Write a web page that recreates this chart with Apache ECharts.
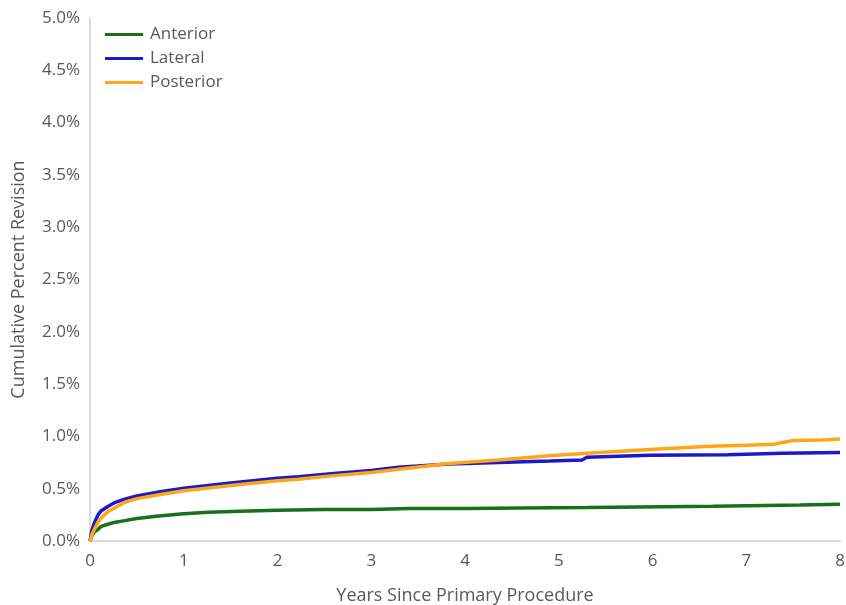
<!DOCTYPE html>
<html>
<head>
<meta charset="utf-8">
<script src="https://cdn.jsdelivr.net/npm/echarts@6/dist/echarts.min.js"></script>
<style>html,body{margin:0;padding:0;background:#fff}#c{width:846px;height:605px}</style>
</head>
<body>
<div id="c"></div>
<script>
const seriesNames = ['Anterior', 'Lateral', 'Posterior'];
const xTicks = [0, 1, 2, 3, 4, 5, 6, 7, 8];
const yTicks = [0, 0.5, 1, 1.5, 2, 2.5, 3, 3.5, 4, 4.5, 5];

// years since primary procedure
const anteriorYears = [0, 0.02, 0.05, 0.085, 0.12, 0.19, 0.27, 0.37, 0.5, 0.73, 1.0, 1.26, 1.6, 2.0, 2.5, 3.0, 3.4, 4.0, 4.6, 5.3, 5.31, 6.64, 6.65, 7.57, 7.58, 8.0];
const anteriorPct =   [0, 0.05, 0.09, 0.11, 0.14, 0.16, 0.18, 0.195, 0.215, 0.24, 0.26, 0.275, 0.285, 0.295, 0.30, 0.30, 0.31, 0.31, 0.315, 0.32, 0.333, 0.333, 0.345, 0.345, 0.352, 0.352];

const lateralYears = [0, 0.02, 0.05, 0.085, 0.12, 0.19, 0.27, 0.37, 0.5, 0.75, 1.0, 1.5, 2.0, 2.22, 2.6, 3.0, 3.29, 3.83, 4.36, 4.9, 5.25, 5.3, 5.97, 6.8, 6.82, 7.38, 7.4, 8.0];
const lateralPct =   [0, 0.10, 0.18, 0.25, 0.29, 0.33, 0.37, 0.40, 0.43, 0.47, 0.505, 0.555, 0.60, 0.615, 0.645, 0.675, 0.705, 0.735, 0.75, 0.765, 0.775, 0.80, 0.82, 0.825, 0.84, 0.84, 0.845, 0.845];

const posteriorYears = [0, 0.02, 0.05, 0.085, 0.12, 0.19, 0.27, 0.37, 0.5, 0.75, 1.0, 1.5, 2.0, 2.22, 2.6, 3.0, 3.29, 3.83, 4.36, 4.9, 5.3, 5.97, 6.61, 7.0, 7.3, 7.4, 7.5, 7.8, 8.0];
const posteriorPct =   [0, 0.06, 0.12, 0.18, 0.22, 0.28, 0.32, 0.37, 0.405, 0.445, 0.48, 0.53, 0.575, 0.59, 0.625, 0.655, 0.685, 0.74, 0.775, 0.815, 0.84, 0.875, 0.905, 0.915, 0.925, 0.945, 0.96, 0.965, 0.975];

const colors = ['#17701a', '#1a1acd', '#ffa618'];
const textColor = '#595959';
const font = 'Open Sans';

function pairs(xs, ys) { return xs.map((x, i) => [x, ys[i]]); }
const allData = [pairs(anteriorYears, anteriorPct), pairs(lateralYears, lateralPct), pairs(posteriorYears, posteriorPct)];

const chart = echarts.init(document.getElementById('c'));
chart.setOption({
  animation: false,
  backgroundColor: '#fff',
  grid: { left: 90, right: 6, top: 18, bottom: 64, containLabel: false, outerBoundsMode: 'none' },
  legend: {
    orient: 'vertical', left: 100, top: 21, itemWidth: 38, itemHeight: 3, itemGap: 7, icon: 'rect',
    textStyle: { color: textColor, fontSize: 17, fontFamily: font, padding: [0, 0, 0, 2] },
    data: seriesNames
  },
  xAxis: {
    type: 'value', min: xTicks[0], max: xTicks[xTicks.length - 1], interval: 1,
    name: 'Years Since Primary Procedure', nameLocation: 'middle', nameGap: 46,
    nameTextStyle: { color: textColor, fontSize: 18, fontFamily: font },
    axisLine: { show: true, lineStyle: { color: '#d9d9d9', width: 2 } },
    axisTick: { show: false },
    splitLine: { show: false },
    axisLabel: { color: textColor, fontSize: 17, fontFamily: font, margin: 12 }
  },
  yAxis: {
    type: 'value', min: yTicks[0], max: yTicks[yTicks.length - 1], interval: 0.5,
    name: 'Cumulative Percent Revision', nameLocation: 'middle', nameGap: 62,
    nameTextStyle: { color: textColor, fontSize: 18, fontFamily: font },
    axisLine: { show: true, lineStyle: { color: '#d9d9d9', width: 2 } },
    axisTick: { show: false },
    splitLine: { show: false },
    axisLabel: { color: textColor, fontSize: 17, fontFamily: font, margin: 10, formatter: v => v.toFixed(1) + '%' }
  },
  series: seriesNames.map((n, i) => ({
    name: n, type: 'line', data: allData[i], symbol: 'none', showSymbol: false,
    lineStyle: { color: colors[i], width: 3.5 }, itemStyle: { color: colors[i] },
    z: i === 2 ? 3 : (i === 1 ? 2 : 1)
  }))
});
</script>
</body>
</html>
